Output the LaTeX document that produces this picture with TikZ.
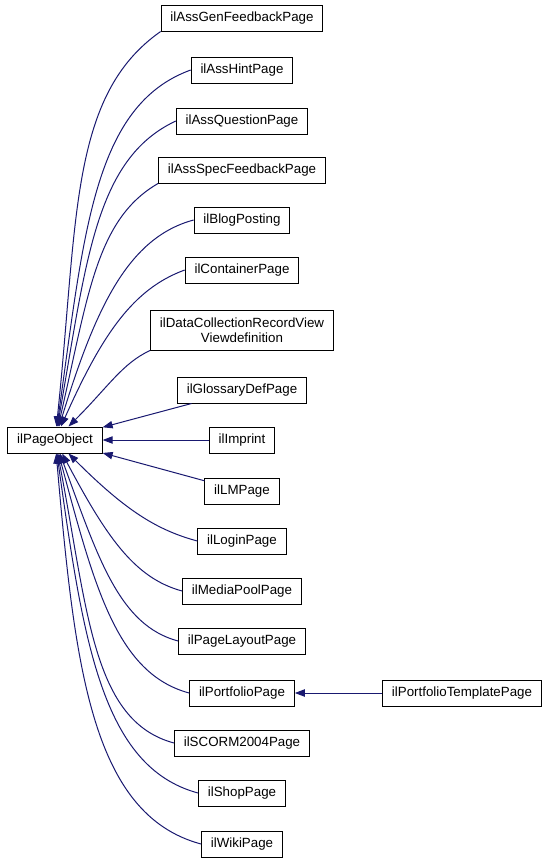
\documentclass[tikz,border=0pt]{standalone}
\usepackage{fontspec}
\setmainfont{Liberation Sans}
\usetikzlibrary{arrows.meta}
\definecolor{edgeblue}{HTML}{191970}

\begin{document}
\begin{tikzpicture}[x=0.75pt, y=-0.75pt,
  cls/.style={draw=black, line width=0.75pt, fill=white,
              font=\fontsize{10}{11.5}\selectfont, align=center,
              inner xsep=7pt, inner ysep=0pt, minimum height=19.5pt},
  inh/.style={-{Triangle[length=7.5pt,width=5.5pt]}, edgeblue, line width=0.75pt,
              out looseness=0.7, in looseness=1.3}]
  \useasboundingbox (0,0) rectangle (548,864);
  % Base class
  \node[cls] (pobj) at (55,440) {ilPageObject};
  % Derived classes
  \node[cls] (gen) at (242,18) {ilAssGenFeedbackPage};
  \node[cls] (hint) at (242,70) {ilAssHintPage};
  \node[cls] (quest) at (242,121) {ilAssQuestionPage};
  \node[cls] (spec) at (242,170) {ilAssSpecFeedbackPage};
  \node[cls] (blog) at (242,220) {ilBlogPosting};
  \node[cls] (cont) at (242,270) {ilContainerPage};
  \node[cls, minimum height=30pt] (dcl) at (242,330)
        {ilDataCollectionRecordView\\Viewdefinition};
  \node[cls] (gloss) at (242,390) {ilGlossaryDefPage};
  \node[cls] (impr) at (242,440) {ilImprint};
  \node[cls] (lm) at (242,491) {ilLMPage};
  \node[cls] (login) at (242,541) {ilLoginPage};
  \node[cls] (media) at (242,591) {ilMediaPoolPage};
  \node[cls] (layout) at (242,641) {ilPageLayoutPage};
  \node[cls] (port) at (242,693) {ilPortfolioPage};
  \node[cls] (scorm) at (242,743) {ilSCORM2004Page};
  \node[cls] (shop) at (242,793) {ilShopPage};
  \node[cls] (wiki) at (242,844) {ilWikiPage};
  \node[cls] (tmpl) at (462,693) {ilPortfolioTemplatePage};
  % Inheritance
  \draw[inh] (gen.south west) to[out=215, in=84] (pobj);
  \draw[inh] (hint.west) to[out=200, in=82] (pobj);
  \draw[inh] (quest.west) to[out=205, in=80] (pobj);
  \draw[inh] (spec.south west) to[out=210, in=77] (pobj);
  \draw[inh] (blog.west) to[out=195, in=73] (pobj);
  \draw[inh] (cont.west) to[out=200, in=66] (pobj);
  \draw[inh] (dcl.south west) to[out=205, in=45] (pobj);
  \draw[inh] (gloss) -- (pobj);
  \draw[inh] (impr) -- (pobj);
  \draw[inh] (lm) -- (pobj);
  \draw[inh] (login.west) to[out=165, in=-45] (pobj);
  \draw[inh] (media.west) to[out=165, in=-62] (pobj);
  \draw[inh] (layout.west) to[out=165, in=-70] (pobj);
  \draw[inh] (port.west) to[out=165, in=-75] (pobj);
  \draw[inh] (scorm.west) to[out=165, in=-79] (pobj);
  \draw[inh] (shop.west) to[out=165, in=-82] (pobj);
  \draw[inh] (wiki.west) to[out=165, in=-85] (pobj);
  \draw[inh] (tmpl) -- (port);
\end{tikzpicture}
\end{document}
